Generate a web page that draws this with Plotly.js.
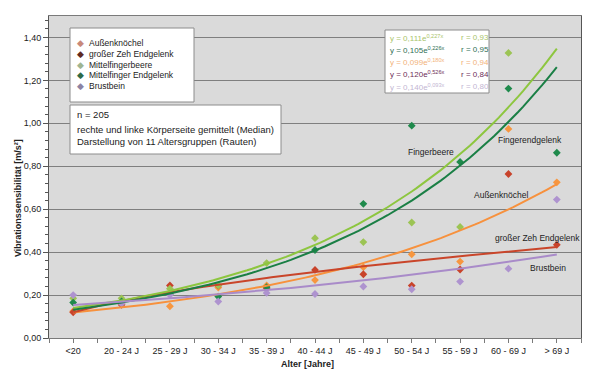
<!DOCTYPE html>
<html>
<head>
<meta charset="utf-8">
<script src="https://cdn.plot.ly/plotly-3.0.1.min.js"></script>
<style>html,body{margin:0;padding:0;background:#fff;}#chart{width:600px;height:381px;}</style>
</head>
<body>
<div id="chart"></div>
<script>
// ---- data ----
const categories = ['<20','20 - 24 J','25 - 29 J','30 - 34 J','35 - 39 J','40 - 44 J','45 - 49 J','50 - 54 J','55 - 59 J','60 - 69 J','> 69 J'];
const seriesNames = ['Außenknöchel','großer Zeh Endgelenk','Mittelfingerbeere','Mittelfinger Endgelenk','Brustbein'];
const aussenknoechel = [0.125, 0.160, 0.148, 0.235, 0.245, 0.270, 0.330, 0.390, 0.356, 0.974, 0.725];
const grosserZeh     = [0.120, 0.155, 0.245, 0.244, 0.232, 0.317, 0.297, 0.244, 0.319, 0.764, 0.434];
const fingerbeere    = [0.185, 0.185, 0.230, 0.245, 0.349, 0.465, 0.447, 0.538, 0.517, 1.328, 1.550];
const fingerEndgel   = [0.165, 0.170, 0.205, 0.193, 0.237, 0.410, 0.625, 0.989, 0.820, 1.162, 0.863];
const brustbein      = [0.200, 0.160, 0.200, 0.170, 0.210, 0.205, 0.240, 0.227, 0.263, 0.323, 0.645];
// trend line coefficients as printed in the chart (y = a·e^(b·x), x = 1..11; the toe curve is a power fit)
const trendA    = [0.099, 0.120, 0.111, 0.105, 0.140];
const trendB    = [0.180, 0.526, 0.227, 0.226, 0.093];
const trendType = ['exp', 'power', 'exp', 'exp', 'exp'];
const equations = ['y = 0,111e<sup>0,227x</sup>','y = 0,105e<sup>0,226x</sup>','y = 0,099e<sup>0,180x</sup>','y = 0,120e<sup>0,526x</sup>','y = 0,140e<sup>0,093x</sup>'];
const rValues   = ['r = 0,93','r = 0,95','r = 0,94','r = 0,84','r = 0,80'];
const curveLabels = ['Außenknöchel','großer Zeh Endgelenk','Fingerbeere','Fingerendgelenk','Brustbein'];

// ---- styles ----
const values = [aussenknoechel, grosserZeh, fingerbeere, fingerEndgel, brustbein];
const markerColors = ['#F7963F','#C8432B','#9CC454','#1F8A4C','#AE93CF'];
const lineColors   = ['#F7913D','#C9452A','#8DC63F','#1A7F45','#A98BC9'];
const legendColors = ['#C8897A','#5E2A22','#9FB592','#2D6A48','#8C83A3'];
const eqColors     = ['#A9C46A','#2F6F55','#F2B27A','#6E2E58','#C3B6D3'];
const FONT = 'Liberation Sans, Arial, sans-serif';

const L = 49, R = 581, T = 16, B = 338;
const px = v => (v - L) / (R - L);
const py = v => (B - v) / (B - T);

const traces = [];
const xIdx = categories.map((c, i) => i);
values.forEach((vals, s) => {
  traces.push({
    type: 'scatter', mode: 'markers', x: xIdx, y: vals,
    marker: {symbol: 'diamond', size: 6, color: markerColors[s]},
    showlegend: false, hoverinfo: 'skip', cliponaxis: true
  });
});
values.forEach((vals, s) => {
  const xs = [], ys = [];
  for (let k = 0; k <= 100; k++) {
    const x = 1 + k * 0.1;
    xs.push(x - 1);
    ys.push(trendType[s] === 'exp' ? trendA[s] * Math.exp(trendB[s] * x) : trendA[s] * Math.pow(x, trendB[s]));
  }
  traces.push({
    type: 'scatter', mode: 'lines', x: xs, y: ys,
    line: {color: lineColors[s], width: 2}, showlegend: false, hoverinfo: 'skip'
  });
});

const shapes = [
  {type: 'rect', xref: 'paper', yref: 'paper', x0: px(70), x1: px(194), y0: py(28), y1: py(102), fillcolor: '#fff', line: {color: '#8c8c8c', width: 1}},
  {type: 'rect', xref: 'paper', yref: 'paper', x0: px(70), x1: px(281), y0: py(105), y1: py(154), fillcolor: '#fff', line: {color: '#8c8c8c', width: 1}},
  {type: 'rect', xref: 'paper', yref: 'paper', x0: px(385), x1: px(489), y0: py(30), y1: py(93), fillcolor: '#fff', line: {color: '#8c8c8c', width: 1}}
];

const ann = [];
const legendY = [43, 54, 64.7, 75.3, 86];
seriesNames.forEach((n, i) => {
  ann.push({xref: 'paper', yref: 'paper', x: px(80), y: py(legendY[i]), text: '◆', showarrow: false,
    font: {family: 'DejaVu Sans', size: 9, color: legendColors[i]}, xanchor: 'center', yanchor: 'middle'});
  ann.push({xref: 'paper', yref: 'paper', x: px(87), y: py(legendY[i]), text: n, showarrow: false,
    font: {family: FONT, size: 8.5, color: '#222'}, xanchor: 'left', yanchor: 'middle'});
});
['n = 205', 'rechte und linke Körperseite gemittelt (Median)', 'Darstellung von 11 Altersgruppen (Rauten)'].forEach((t, i) => {
  ann.push({xref: 'paper', yref: 'paper', x: px(75), y: py([115, 129.5, 141.5][i]), text: t, showarrow: false,
    font: {family: FONT, size: 9.5, color: '#222'}, xanchor: 'left', yanchor: 'middle'});
});
equations.forEach((e, i) => {
  const yy = 37.8 + 12.2 * i;
  ann.push({xref: 'paper', yref: 'paper', x: px(388), y: py(yy), text: e, showarrow: false,
    font: {family: FONT, size: 8, color: eqColors[i]}, xanchor: 'left', yanchor: 'middle'});
  ann.push({xref: 'paper', yref: 'paper', x: px(459), y: py(yy), text: rValues[i], showarrow: false,
    font: {family: FONT, size: 8, color: eqColors[i]}, xanchor: 'left', yanchor: 'middle'});
});
const clPos = [[501, 195], [537, 238], [431, 152], [530, 140], [548, 268]];
curveLabels.forEach((t, i) => {
  ann.push({xref: 'paper', yref: 'paper', x: px(clPos[i][0]), y: py(clPos[i][1]), text: t, showarrow: false,
    font: {family: FONT, size: 8.5, color: '#222'}, xanchor: 'center', yanchor: 'middle'});
});
ann.push({xref: 'paper', yref: 'paper', x: px(18), y: py(198), text: '<b>Vibrationssensibilität [m/s²]</b>', textangle: -90,
  showarrow: false, font: {family: FONT, size: 9, color: '#222'}, xanchor: 'center', yanchor: 'middle'});
ann.push({xref: 'paper', yref: 'paper', x: px(307), y: py(364), text: '<b>Alter [Jahre]</b>',
  showarrow: false, font: {family: FONT, size: 9, color: '#222'}, xanchor: 'center', yanchor: 'middle'});

const layout = {
  width: 600, height: 381,
  margin: {l: L, r: 600 - R, t: T, b: 381 - B, pad: 0},
  paper_bgcolor: '#ffffff', plot_bgcolor: '#dadada',
  separators: ',.',
  font: {family: FONT, size: 9, color: '#222'},
  showlegend: false,
  xaxis: {
    range: [-0.5, 10.5], tickvals: xIdx, ticktext: categories, showgrid: false, zeroline: false,
    showline: true, linecolor: '#7a7a7a', linewidth: 1, mirror: true,
    ticks: 'outside', ticklen: 4, tickcolor: '#7a7a7a',
    minor: {dtick: 0.5, tick0: -0.5, ticks: 'outside', ticklen: 4, tickcolor: '#7a7a7a', showgrid: false},
    tickfont: {family: FONT, size: 9, color: '#222'}, fixedrange: true
  },
  yaxis: {
    range: [0, 1.5], tickvals: [0, 0.2, 0.4, 0.6, 0.8, 1.0, 1.2, 1.4], tickformat: '.2f',
    showgrid: true, gridcolor: '#7f7f7f', gridwidth: 1, zeroline: false,
    showline: true, linecolor: '#555', linewidth: 1, mirror: true,
    ticks: 'outside', ticklen: 5, tickcolor: '#555',
    minor: {dtick: 0.04, tick0: 0, ticks: 'outside', ticklen: 3, tickcolor: '#555', showgrid: false},
    tickfont: {family: FONT, size: 9, color: '#222'}, fixedrange: true
  },
  shapes: shapes,
  annotations: ann
};

Plotly.newPlot('chart', traces, layout, {staticPlot: true, displayModeBar: false});
</script>
</body>
</html>
